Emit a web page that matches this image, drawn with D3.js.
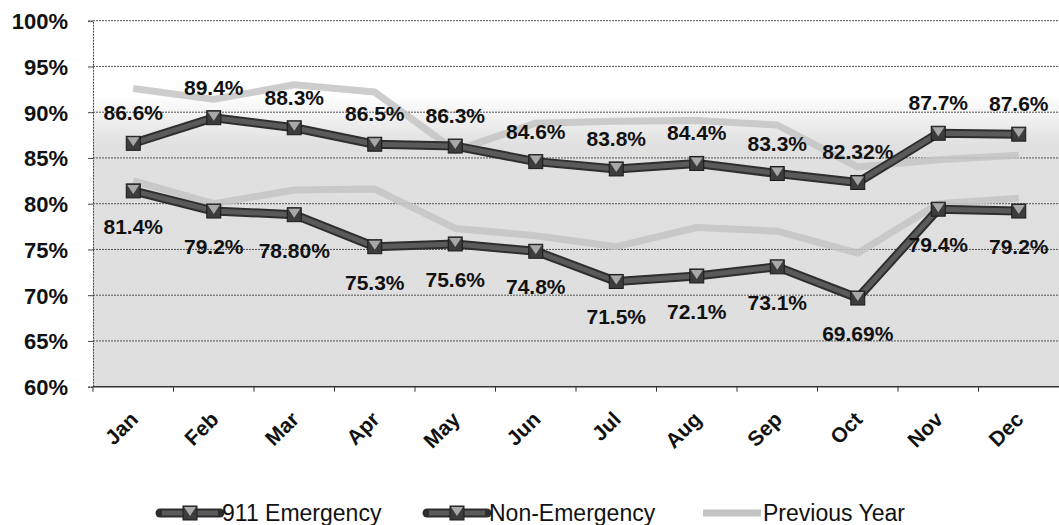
<!DOCTYPE html>
<html>
<head>
<script src="https://d3js.org/d3.v7.min.js"></script>
<style>
  body { margin: 0; background: #fff; }
  svg { display: block; }
  text { font-family: "Liberation Sans", Arial, sans-serif; }
</style>
</head>
<body>
<div id="chart"></div>
<script>
// data
const months = ["Jan", "Feb", "Mar", "Apr", "May", "Jun", "Jul", "Aug", "Sep", "Oct", "Nov", "Dec"];
const emergency = [86.6, 89.4, 88.3, 86.5, 86.3, 84.6, 83.8, 84.4, 83.3, 82.32, 87.7, 87.6];
const emergencyLabels = ["86.6%", "89.4%", "88.3%", "86.5%", "86.3%", "84.6%", "83.8%", "84.4%", "83.3%", "82.32%", "87.7%", "87.6%"];
const nonEmergency = [81.4, 79.2, 78.8, 75.3, 75.6, 74.8, 71.5, 72.1, 73.1, 69.69, 79.4, 79.2];
const nonEmergencyLabels = ["81.4%", "79.2%", "78.80%", "75.3%", "75.6%", "74.8%", "71.5%", "72.1%", "73.1%", "69.69%", "79.4%", "79.2%"];
// previous year (one for each series, only one legend entry)
const prevEmergency = [92.6, 91.4, 93.0, 92.2, 85.8, 88.8, 89.0, 89.1, 88.6, 84.0, 84.8, 85.3];
const prevNonEmergency = [82.5, 80.0, 81.5, 81.6, 77.3, 76.5, 75.3, 77.4, 77.0, 74.6, 80.0, 80.6];
const yTicks = [60, 65, 70, 75, 80, 85, 90, 95, 100];

const width = 1059, height = 525;
const svg = d3.select("#chart").append("svg")
  .attr("width", width).attr("height", height);

const x = d3.scaleBand().domain(months).range([93, 1059]);
const y = d3.scaleLinear().domain([60, 100]).range([386.7, 20.7]);
const cx = m => x(m) + x.bandwidth() / 2;

// plot background: white on top, speckled grey lower down
const defs = svg.append("defs");
const grad = defs.append("linearGradient").attr("id", "bg")
  .attr("x1", 0).attr("y1", 0).attr("x2", 0).attr("y2", 1);
grad.append("stop").attr("offset", "0%").attr("stop-color", "#ffffff");
grad.append("stop").attr("offset", "20%").attr("stop-color", "#ffffff");
grad.append("stop").attr("offset", "34%").attr("stop-color", "#e0e0e0");
grad.append("stop").attr("offset", "100%").attr("stop-color", "#dedede");

svg.append("rect")
  .attr("x", 93).attr("y", y(100))
  .attr("width", 1059 - 93).attr("height", y(60) - y(100))
  .attr("fill", "url(#bg)");

// gridlines
svg.append("g").selectAll("line")
  .data(yTicks.slice(1))
  .join("line")
  .attr("x1", 93).attr("x2", 1059)
  .attr("y1", d => y(d)).attr("y2", d => y(d))
  .attr("stroke", "#555").attr("stroke-width", 1)
  .attr("stroke-dasharray", "2,1");

// y axis
const yAxis = svg.append("g")
  .attr("transform", "translate(93,0)")
  .call(d3.axisLeft(y).tickValues(yTicks).tickSize(5).tickFormat(d => d + "%"));
yAxis.select(".domain").attr("stroke", "#444").attr("stroke-dasharray", "2,1");
yAxis.selectAll(".tick line").attr("stroke", "#444");
yAxis.selectAll("text")
  .attr("x", -25).attr("dy", "0.36em")
  .attr("fill", "#111")
  .style("font-size", "22px").style("font-weight", "bold");

// x axis, ticks between categories
const xAxis = svg.append("g").attr("transform", `translate(0,${y(60)})`);
xAxis.append("line")
  .attr("x1", 93).attr("x2", 1059).attr("y1", 0).attr("y2", 0)
  .attr("stroke", "#333").attr("stroke-width", 1.5);
xAxis.selectAll(".tk")
  .data(months)
  .join("line")
  .attr("class", "tk")
  .attr("x1", d => x(d)).attr("x2", d => x(d))
  .attr("y1", 0).attr("y2", 5)
  .attr("stroke", "#333");
xAxis.selectAll(".lbl")
  .data(months)
  .join("text")
  .attr("class", "lbl")
  .attr("text-anchor", "end")
  .attr("transform", d => `translate(${cx(d) + 6},${34}) rotate(-45)`)
  .attr("fill", "#111")
  .style("font-size", "21px").style("font-weight", "bold")
  .text(d => d);

const line = d3.line().x((d, i) => cx(months[i])).y(d => y(d));

// previous year lines (below)
[prevEmergency, prevNonEmergency].forEach(s => {
  svg.append("path")
    .datum(s)
    .attr("d", line)
    .attr("fill", "none")
    .attr("stroke", "#c4c4c4")
    .attr("stroke-width", 7)
    .attr("stroke-linejoin", "round")
    .attr("opacity", 0.85);
});

// current lines
function drawSeries(vals) {
  const g = svg.append("g");
  g.append("path")
    .datum(vals)
    .attr("d", line)
    .attr("fill", "none")
    .attr("stroke", "#2e2e2e")
    .attr("stroke-width", 9)
    .attr("stroke-linejoin", "round");
  g.append("path")
    .datum(vals)
    .attr("d", line)
    .attr("fill", "none")
    .attr("stroke", "#5a5a5a")
    .attr("stroke-width", 5)
    .attr("stroke-linejoin", "round");
  const mk = g.selectAll(".mk")
    .data(vals)
    .join("g")
    .attr("class", "mk")
    .attr("transform", (d, i) => `translate(${cx(months[i])},${y(d)})`);
  mk.append("rect")
    .attr("x", -7).attr("y", -7).attr("width", 14).attr("height", 14)
    .attr("fill", "#3c3c3c").attr("stroke", "#1a1a1a").attr("stroke-width", 1);
  mk.append("path")
    .attr("d", "M-6,-6 L6,-6 L0,3 Z")
    .attr("fill", "#a8a8a8");
  return g;
}
drawSeries(emergency);
drawSeries(nonEmergency);

// data labels
svg.append("g").selectAll("text")
  .data(emergency)
  .join("text")
  .attr("x", (d, i) => cx(months[i]))
  .attr("y", d => y(d) - 23)
  .attr("text-anchor", "middle")
  .attr("fill", "#111")
  .style("font-size", "21px").style("font-weight", "bold")
  .text((d, i) => emergencyLabels[i]);

svg.append("g").selectAll("text")
  .data(nonEmergency)
  .join("text")
  .attr("x", (d, i) => cx(months[i]))
  .attr("y", d => y(d) + 43)
  .attr("text-anchor", "middle")
  .attr("fill", "#111")
  .style("font-size", "21px").style("font-weight", "bold")
  .text((d, i) => nonEmergencyLabels[i]);

// legend
const legendItems = [
  { name: "911 Emergency", x: 160, type: "cur" },
  { name: "Non-Emergency", x: 427, type: "cur" },
  { name: "Previous Year", x: 703, type: "prev" }
];
const ly = 513;
const lg = svg.append("g").selectAll("g")
  .data(legendItems)
  .join("g")
  .attr("transform", d => `translate(${d.x},${ly})`);
lg.filter(d => d.type === "cur").each(function () {
  const g = d3.select(this);
  g.append("line").attr("x1", 0).attr("x2", 60).attr("stroke", "#2e2e2e").attr("stroke-width", 9).attr("stroke-linecap", "round");
  g.append("line").attr("x1", 2).attr("x2", 58).attr("stroke", "#5a5a5a").attr("stroke-width", 5);
  g.append("rect").attr("x", 23).attr("y", -7).attr("width", 14).attr("height", 14)
    .attr("fill", "#3c3c3c").attr("stroke", "#1a1a1a");
  g.append("path").attr("d", "M24,-6 L36,-6 L30,3 Z").attr("fill", "#a8a8a8");
});
lg.filter(d => d.type === "prev")
  .append("line").attr("x1", 0).attr("x2", 58)
  .attr("stroke", "#c4c4c4").attr("stroke-width", 7);
lg.append("text")
  .attr("x", d => d.type === "prev" ? 60 : 62)
  .attr("y", 8)
  .attr("fill", "#111")
  .style("font-size", "23px")
  .text(d => d.name);
</script>
</body>
</html>
